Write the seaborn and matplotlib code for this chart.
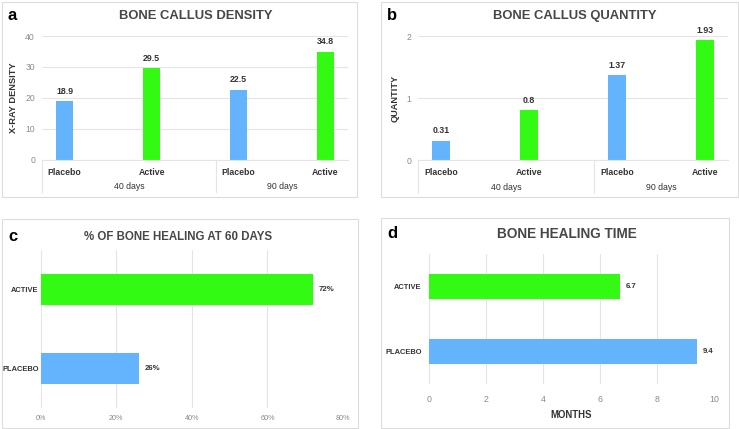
import matplotlib
matplotlib.use('Agg')
import matplotlib.pyplot as plt
import matplotlib.transforms as mtransforms
from matplotlib.patches import Rectangle
import pandas as pd
import seaborn as sns

sns.set_theme(style='white')
plt.rcParams['font.family'] = ['Liberation Sans', 'DejaVu Sans']

# Data
arms = ['Placebo', 'Active', 'Placebo', 'Active']
periods = ['40 days', '90 days']
density = [18.9, 29.5, 22.5, 34.8]
density_labels = ['18.9', '29.5', '22.5', '34.8']
quantity = [0.31, 0.8, 1.37, 1.93]
quantity_labels = ['0.31', '0.8', '1.37', '1.93']
groups = ['ACTIVE', 'PLACEBO']
healing_pct = [72, 26]
healing_pct_labels = ['72%', '26%']
healing_time = [6.7, 9.4]
healing_time_labels = ['6.7', '9.4']

BLUE = '#63B4FD'
GREEN = '#33FA13'
GRID = '#e4e4e4'
TITLE = '#474747'
DARK = '#333333'
TICK = '#8a8a8a'
palette = {'Placebo': BLUE, 'Active': GREEN, 'PLACEBO': BLUE, 'ACTIVE': GREEN}

W, H = 739, 429
fig = plt.figure(figsize=(W / 100, H / 100), dpi=100)
fig.patch.set_facecolor('white')


def px_axes(x0, y0, x1, y1):
    return fig.add_axes([x0 / W, 1 - y1 / H, (x1 - x0) / W, (y1 - y0) / H])


def frame(x0, y0, x1, y1):
    fig.patches.append(Rectangle((x0 / W, 1 - y1 / H), (x1 - x0) / W, (y1 - y0) / H,
                                 transform=fig.transFigure, fill=False,
                                 edgecolor='#dcdcdc', linewidth=0.8))


def header(letter, lx, title, tx, ty, size):
    fig.text(lx / W, 1 - ty / H, letter, fontsize=12, fontweight='bold',
             color='black', va='center', ha='left')
    fig.text(tx / W, 1 - ty / H, title, fontsize=size, fontweight='bold',
             color=TITLE, va='center', ha='center')


def column_panel(ax, values, labels, ylim, yticks, ylabel):
    keys = [f'{a} {p}' for p in periods for a in ['Placebo', 'Active']]
    df = pd.DataFrame({'key': keys, 'arm': arms, 'value': values})
    sns.barplot(data=df, x='key', y='value', hue='arm', palette=palette,
                dodge=False, width=0.2, linewidth=0, saturation=1,
                legend=False, ax=ax)
    for i, (v, lab) in enumerate(zip(values, labels)):
        ax.annotate(lab, (i, v), xytext=(0, 4), textcoords='offset points',
                    ha='center', va='bottom', fontsize=6.3, fontweight='bold', color=DARK)
    ax.set_xlim(-0.26, 3.26)
    ax.set_ylim(*ylim)
    ax.set_yticks(yticks)
    ax.set_yticklabels([str(t) for t in yticks], fontsize=6.2, color=TICK)
    ax.set_xticks(range(4))
    ax.set_xticklabels(arms, fontsize=6.3, fontweight='bold', color=DARK)
    ax.tick_params(axis='both', length=0)
    ax.tick_params(axis='x', pad=6)
    ax.tick_params(axis='y', pad=5)
    ax.grid(axis='y', color=GRID, linewidth=0.8)
    ax.set_axisbelow(True)
    for s in ['top', 'right', 'left']:
        ax.spines[s].set_visible(False)
    ax.spines['bottom'].set_color(GRID)
    ax.spines['bottom'].set_linewidth(0.8)
    ax.set_xlabel('')
    ax.set_ylabel(ylabel, fontsize=6.7, fontweight='bold', color=DARK, labelpad=5)
    trans = mtransforms.blended_transform_factory(ax.transData, ax.transAxes)
    for xs in [-0.26, 1.74]:
        ax.plot([xs, xs], [0, -0.265], transform=trans, color=GRID,
                linewidth=0.8, clip_on=False)
    for xc, p in zip([0.74, 2.5], periods):
        ax.text(xc, -0.222, p, transform=trans, ha='center', va='center',
                fontsize=6.3, color=DARK)


def row_panel(ax, values, labels, xlim, xticks, xticklabels, xlabel=None, ypad=5):
    df = pd.DataFrame({'group': groups, 'value': values})
    sns.barplot(data=df, x='value', y='group', hue='group', palette=palette,
                orient='h', width=0.39, linewidth=0, saturation=1,
                legend=False, ax=ax)
    for i, (v, lab) in enumerate(zip(values, labels)):
        ax.annotate(lab, (v, i), xytext=(4, 0), textcoords='offset points',
                    ha='left', va='center', fontsize=5.6, fontweight='bold', color=DARK)
    ax.set_xlim(*xlim)
    ax.set_ylim(1.5, -0.5)
    ax.set_xticks(xticks)
    ax.set_xticklabels(xticklabels, color=TICK)
    ax.set_yticks(range(len(groups)))
    ax.set_yticklabels(groups, fontsize=5.4, fontweight='bold', color=DARK)
    ax.tick_params(axis='both', length=0)
    ax.tick_params(axis='y', pad=ypad)
    ax.grid(axis='x', color=GRID, linewidth=0.8)
    ax.set_axisbelow(True)
    for s in ax.spines.values():
        s.set_visible(False)
    ax.set_ylabel('')
    if xlabel:
        ax.set_xlabel(xlabel, fontsize=6.9, fontweight='bold', color=DARK, labelpad=4)
    else:
        ax.set_xlabel('')


# Panel a
frame(2, 2, 357, 197)
header('a', 8, 'BONE CALLUS DENSITY', 196, 16, 9.4)
ax_a = px_axes(42, 36, 348, 159.5)
column_panel(ax_a, density, density_labels, (0, 40), [0, 10, 20, 30, 40], 'X-RAY DENSITY')

# Panel b
frame(381, 2, 738, 197)
header('b', 387, 'BONE CALLUS QUANTITY', 574.5, 16, 9.4)
ax_b = px_axes(418, 36, 728, 160)
column_panel(ax_b, quantity, quantity_labels, (0, 2), [0, 1, 2], 'QUANTITY')

# Panel c
frame(2, 219, 358, 428)
header('c', 8, '% OF BONE HEALING AT 60 DAYS', 178, 237, 8.3)
ax_c = px_axes(40.7, 250, 343, 408)
row_panel(ax_c, healing_pct, healing_pct_labels, (0, 80), [0, 20, 40, 60, 80],
          [f'{t}%' for t in [0, 20, 40, 60, 80]], ypad=1.5)
ax_c.tick_params(axis='x', labelsize=5.2, pad=5)

# Panel d
frame(381, 218, 729, 428)
header('d', 387, 'BONE HEALING TIME', 567, 234, 9.8)
ax_d = px_axes(428.7, 254, 714.3, 384)
row_panel(ax_d, healing_time, healing_time_labels, (0, 10), [0, 2, 4, 6, 8, 10],
          [str(t) for t in [0, 2, 4, 6, 8, 10]], xlabel='MONTHS')
ax_d.tick_params(axis='x', labelsize=6.3, pad=8)

fig.savefig('out.png', dpi=100, facecolor='white')
